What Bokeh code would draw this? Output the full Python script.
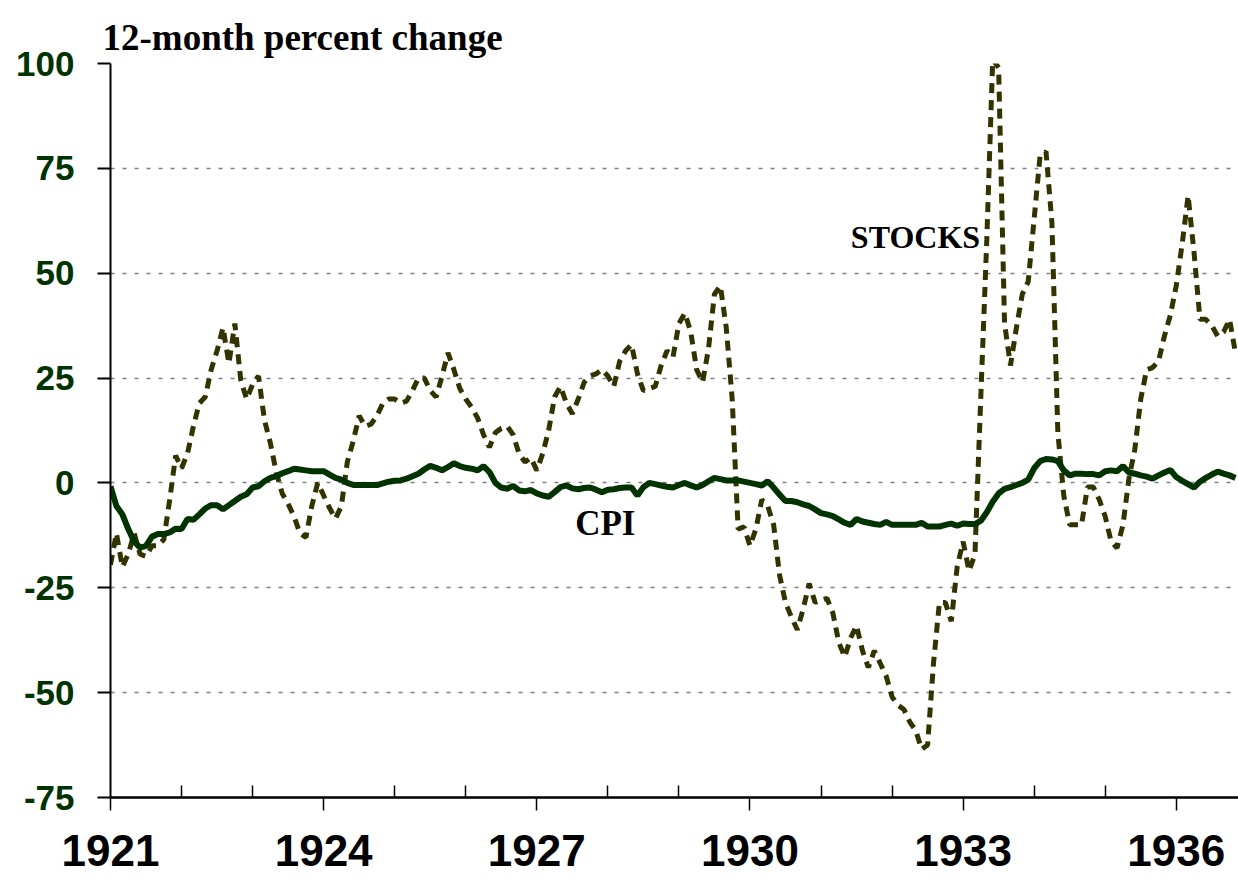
from bokeh.plotting import figure
from bokeh.models import FixedTicker, Range1d, Label
from bokeh.embed import file_html
from bokeh.resources import INLINE

# ---- data (monthly, Jan 1921 .. Nov 1936), 12-month percent change ----
start_year = 1921
stocks = [
    -19.5, -12, -20, -17, -12, -17, -17.5, -15, -15, -13.5,
    -4, 6.5, 3.5, 7, 13.5, 19, 20.5, 27, 31.5, 37,
    28.5, 38, 24.5, 20, 23.5, 25.5, 15, 9.5, 2.5, -2.5,
    -5, -8, -12, -13, -5.5, 0, -3, -6, -8.5, -5.5,
    5, 10, 16, 13.5, 14, 16, 19, 20, 20, 19,
    19.5, 22, 25, 25, 22, 20.5, 25.5, 31, 27, 22.5,
    20, 18, 15.5, 11.5, 8.5, 12, 13, 13.5, 11.5, 7,
    5, 6, 3, 7, 12.5, 20.5, 23, 19, 16.5, 20,
    24, 25.5, 26, 27, 25.5, 23, 29, 31.5, 33, 26,
    22, 22.5, 23, 28, 31.5, 30, 38, 40.5, 36, 27,
    24, 32, 45, 47, 37, 20, -11, -10.5, -15, -11,
    -4, -5.5, -10, -22, -28.5, -32, -35, -30, -24, -28.5,
    -28, -27.5, -31, -38, -41.5, -37, -34, -40, -44, -40,
    -43, -46, -51, -53, -54, -57, -59, -63.5, -62.5, -43,
    -28.5, -28.5, -33, -20, -14, -21, -17, 21, 58, 101,
    99, 38, 28, 37, 45, 48, 63, 78, 79, 62,
    12, -3, -10, -10, -10, -1, -1, -4, -8, -14,
    -15.5, -10, 1, 8, 20, 27, 27.5, 29, 35, 40,
    47, 57, 68.5, 55, 39, 39, 37.5, 35, 36, 39,
    31,
]
cpi = [
    -0.8, -5.5, -7.5, -11, -14, -15.4, -15, -12.8, -12.2, -12.2,
    -11.8, -10.9, -11, -8.6, -8.8, -7.5, -6.1, -5.3, -5.3, -6.3,
    -5.3, -4.3, -3.3, -2.7, -1.1, -0.8, 0.4, 1.2, 1.6, 2.3,
    2.8, 3.4, 3.2, 3, 2.8, 2.8, 2.8, 2, 1.2, 0.8,
    0, -0.5, -0.5, -0.5, -0.5, -0.5, -0.1, 0.3, 0.5, 0.6,
    1, 1.6, 2.2, 3.2, 4.1, 3.6, 3, 3.8, 4.7, 4,
    3.6, 3.4, 3, 4, 2.6, 0, -1.1, -1.4, -0.7, -1.8,
    -2, -1.7, -2.5, -3, -3.3, -2.2, -1, -0.6, -1.3, -1.5,
    -1.2, -1.1, -1.6, -2.2, -1.6, -1.5, -1.2, -1.1, -1.1, -3,
    -1, 0, -0.3, -0.6, -0.9, -1.1, -0.5, 0, -0.6, -1.1,
    -0.5, 0.4, 1.2, 0.9, 0.6, 0.6, 0.6, 0.3, 0, -0.3,
    -0.6, 0.4, -1.1, -2.8, -4.3, -4.3, -4.6, -5.1, -5.5, -6.3,
    -7.2, -7.5, -7.9, -8.7, -9.5, -10, -8.6, -9.2, -9.5, -9.8,
    -10, -9.3, -10, -10, -10, -10, -10, -9.5, -10.4, -10.4,
    -10.4, -10, -9.7, -10.2, -9.7, -9.8, -9.8, -9, -7, -4.5,
    -2.5, -1.4, -1, -0.5, 0, 0.8, 3.5, 5.2, 5.7, 5.6,
    5.2, 3, 1.8, 2.2, 2.2, 2.1, 2.1, 1.8, 2.8, 3,
    2.8, 4, 2.5, 2.2, 1.8, 1.5, 1, 1.8, 2.5, 3.1,
    1.4, 0.5, -0.3, -1.1, 0.3, 1.2, 2, 2.7, 2.2, 1.8,
    1.2,
]
x_labeled_years = [1921, 1924, 1927, 1930, 1933, 1936]
x_minor_years = [1922, 1923, 1925, 1926, 1928, 1929, 1931, 1932, 1934, 1935]
y_ticks = [-75, -50, -25, 0, 25, 50, 75, 100]
y_tick_labels = ["-75", "-50", "-25", "0", "25", "50", "75", "100"]

months = [start_year + i / 12 for i in range(len(cpi))]

p = figure(
    frame_width=1128, frame_height=734,
    min_border_left=110, min_border_right=0, min_border_top=63, min_border_bottom=80,
    x_range=Range1d(1921, 1936.876), y_range=Range1d(-75, 100),
    output_backend="svg", toolbar_location=None,
)
p.outline_line_color = None
p.background_fill_color = "white"
p.border_fill_color = "white"

p.title.text = "12-month percent change"
p.title.text_font = "Liberation Serif"
p.title.text_font_style = "bold"
p.title.text_font_size = "37px"
p.title.text_color = "black"
p.title.align = "left"
p.title.offset = -8
p.title.standoff = 11

# axes
xa = p.xaxis[0]
xa.ticker = FixedTicker(ticks=x_labeled_years, minor_ticks=x_minor_years)
xa.major_tick_out = 13
xa.major_tick_in = 0
xa.minor_tick_in = 12
xa.minor_tick_out = 0
xa.axis_line_width = 2.5
xa.major_tick_line_width = 1.5
xa.minor_tick_line_width = 1.5
xa.major_label_standoff = 24
xa.major_label_text_font = "Liberation Sans"
xa.major_label_text_font_style = "bold"
xa.major_label_text_font_size = "44px"
xa.major_label_text_color = "black"

ya = p.yaxis[0]
ya.ticker = FixedTicker(ticks=y_ticks)
ya.major_label_overrides = {t: s for t, s in zip(y_ticks, y_tick_labels)}
ya.major_tick_out = 13
ya.major_tick_in = 0
ya.minor_tick_out = 0
ya.minor_tick_in = 0
ya.axis_line_width = 2
ya.major_tick_line_width = 2
ya.major_label_standoff = 23
ya.major_label_text_font = "Liberation Sans"
ya.major_label_text_font_style = "bold"
ya.major_label_text_font_size = "35px"
ya.major_label_text_color = "#003300"

p.xgrid.grid_line_color = None
p.ygrid.grid_line_color = "#808080"
p.ygrid.grid_line_dash = "4 8"
p.ygrid.grid_line_width = 1.5

p.line(months, stocks, line_color="#333300", line_width=5, line_dash="10 7")
p.line(months, cpi, line_color="#003300", line_width=6)

p.add_layout(Label(x=1931.42, y=58.7, text="STOCKS", text_font="Liberation Serif",
                   text_font_style="bold", text_font_size="32px", text_color="black",
                   text_baseline="alphabetic"))
p.add_layout(Label(x=1927.54, y=-9.7, text="CPI", text_font="Liberation Serif",
                   text_font_style="bold", text_font_size="35px", text_color="black",
                   text_baseline="alphabetic"))

open("out.html", "w").write(file_html(p, INLINE))
